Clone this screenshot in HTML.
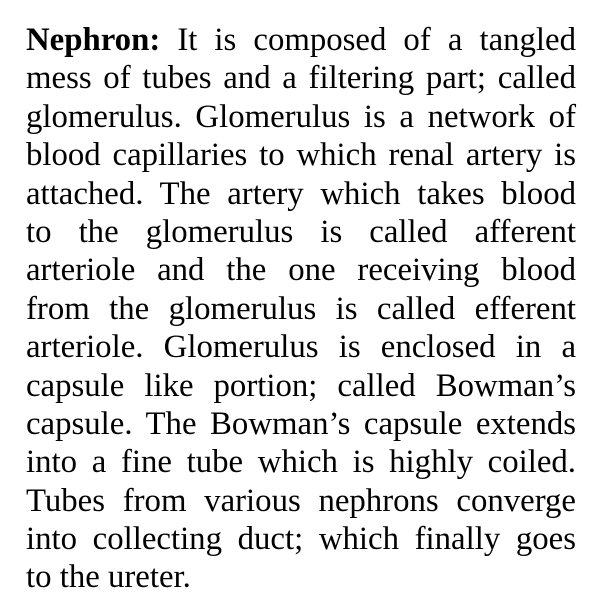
<!DOCTYPE html>
<html><head><meta charset="utf-8"><style>
html,body{margin:0;padding:0;background:#fff;width:605px;height:581px;overflow:hidden}
#txt{position:absolute;left:26px;top:21px;width:550px;font-family:"Liberation Serif",serif;font-size:32.8px;line-height:38.4px;color:#000}
.l{text-align:justify;text-align-last:justify;white-space:nowrap;height:38.4px}
.last{text-align-last:left}
</style></head><body>
<div id="txt">
<div class="l"><b>Nephron:</b> It is composed of a tangled</div>
<div class="l">mess of tubes and a filtering part; called</div>
<div class="l">glomerulus. Glomerulus is a network of</div>
<div class="l">blood capillaries to which renal artery is</div>
<div class="l">attached. The artery which takes blood</div>
<div class="l">to the glomerulus is called afferent</div>
<div class="l">arteriole and the one receiving blood</div>
<div class="l">from the glomerulus is called efferent</div>
<div class="l">arteriole. Glomerulus is enclosed in a</div>
<div class="l">capsule like portion; called Bowman’s</div>
<div class="l">capsule. The Bowman’s capsule extends</div>
<div class="l">into a fine tube which is highly coiled.</div>
<div class="l">Tubes from various nephrons converge</div>
<div class="l">into collecting duct; which finally goes</div>
<div class="l last">to the ureter.</div>
</div>
</body></html>
